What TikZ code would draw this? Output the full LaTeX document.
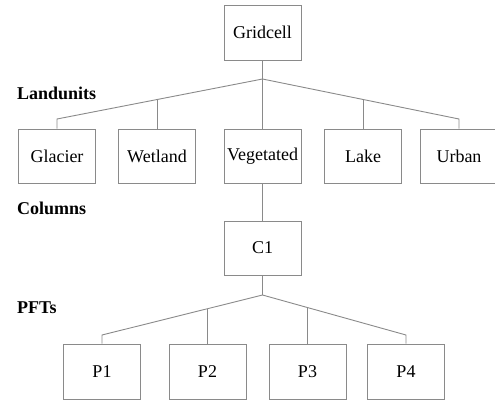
\documentclass[tikz,border=0pt]{standalone}
\usepackage{fontspec}
\setmainfont{Liberation Serif}
\usetikzlibrary{calc}
\definecolor{edge}{HTML}{8A8A8A}
\begin{document}
\begin{tikzpicture}[x=1pt,y=-1pt,
  unit/.style={draw=edge,line width=1pt,minimum width=77pt,minimum height=54pt,
    inner sep=0pt,font=\fontsize{18}{21.6}\selectfont},
  level/.style={anchor=west,inner sep=0pt,font=\fontsize{18}{21.6}\selectfont\bfseries},
  link/.style={draw=edge,line width=0.9pt}]
\useasboundingbox (0,0) rectangle (495,400);

% level labels
\node[level] (lbLand) at (17,93) {Landunits};
\node[level] (lbCol) at (17,208) {Columns};
\node[level] (lbPft) at (17,308) {PFTs};

% grid cell
\node[unit,minimum height=55pt] (grid) at (262.5,32.5) {Gridcell};

% land units
\node[unit] (glacier) at (57,156) {Glacier};
\node[unit] (wetland) at (157,156) {Wetland};
\node[unit] (veg) at (262.5,156) {Vegetated};
\node[unit] (lake) at (363,156) {Lake};
\node[unit] (urban) at (459,156) {Urban};

% column
\node[unit] (c1) at (262.5,248) {C1};

% plant functional types
\node[unit,minimum height=55pt] (p1) at (102,371.5) {P1};
\node[unit,minimum height=55pt] (p2) at (207.5,371.5) {P2};
\node[unit,minimum height=55pt] (p3) at (307.5,371.5) {P3};
\node[unit,minimum height=55pt] (p4) at (406,371.5) {P4};

% gridcell -> land units
\coordinate (jLand) at (262.5,79);
\coordinate (kGl) at (57,119);
\coordinate (kUr) at (459,119);
\coordinate (kWe) at (157,99.5);
\coordinate (kLa) at (363,99.5);
\draw[link] (grid.south) -- (veg.north);
\draw[link] (jLand) -- (kGl) -- (glacier.north);
\draw[link] (jLand) -- (kUr) -- (urban.north);
\draw[link] (kWe) -- (wetland.north);
\draw[link] (kLa) -- (lake.north);

% vegetated -> column
\draw[link] (veg.south) -- (c1.north);

% column -> PFTs
\coordinate (jPft) at (262.5,295);
\coordinate (kP1) at (102,335);
\coordinate (kP4) at (406,335);
\coordinate (kP2) at (207.5,308.7);
\coordinate (kP3) at (307.5,307.5);
\draw[link] (c1.south) -- (jPft);
\draw[link] (jPft) -- (kP1) -- (p1.north);
\draw[link] (jPft) -- (kP4) -- (p4.north);
\draw[link] (kP2) -- (p2.north);
\draw[link] (kP3) -- (p3.north);
\end{tikzpicture}
\end{document}
